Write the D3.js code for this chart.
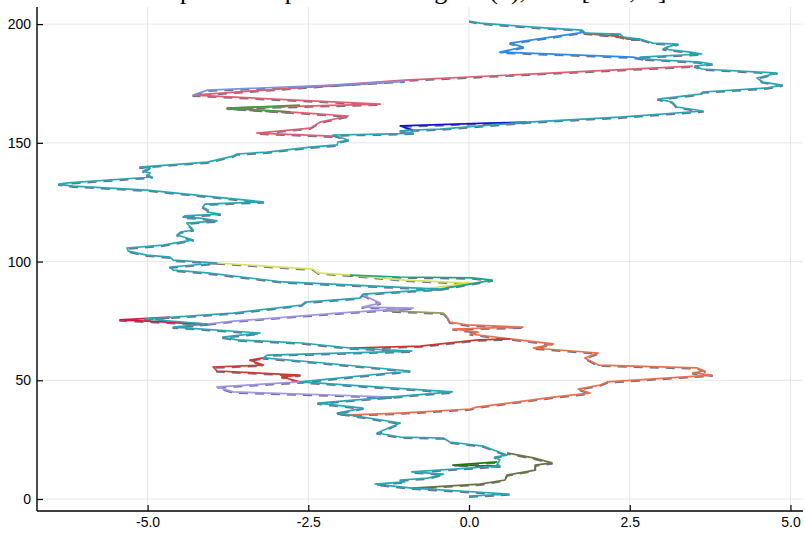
<!DOCTYPE html>
<html><head><meta charset="utf-8">
<script src="https://cdn.jsdelivr.net/npm/d3@7"></script>
<style>html,body{margin:0;padding:0;background:#fff;} svg{display:block}</style>
</head><body><svg id="c" width="805" height="533"></svg>
<script>
const titleText = "permuted paths of a bridge W(n), n ∈ [100, T]";
const xTickValues = [-5, -2.5, 0, 2.5, 5];
const xTickLabels = ["-5.0", "-2.5", "0.0", "2.5", "5.0"];
const yTickValues = [0, 50, 100, 150, 200];
const yTickLabels = ["0", "50", "100", "150", "200"];

// main path (x, t)
const mainPath = [
 [0,1.2],[0.62,2.1],[-0.89,4.6],[-1.46,6.3],[-1.00,7.2],[-1.07,8.0],[-0.64,8.8],[-0.40,10.5],[-0.89,11.4],
 [0.48,13.9],[0.44,14.7],[0.48,16.4],[0.40,17.7],[0.59,18.5],[0.30,21.5],[0.22,22.3],[-0.30,24.0],[-0.40,25.7],
 [-1.07,26.1],[-1.43,27.8],[-1.07,32.0],[-2.05,36.2],[-1.65,38.3],[-2.35,40.4],[-0.26,45.1],[-2.63,49.3],
 [-0.92,53.9],[-2.43,57.7],[-3.20,59.4],[-3.14,60.6],[-0.89,62.3],[-1.85,63.6],[-2.60,65.7],[-3.61,67.0],
 [-3.83,68.2],[-3.25,69.9],[-4.60,72.4],[-4.07,73.7],[-5.04,75.8],[-3.67,78.3],[-2.60,81.7],[-2.55,82.9],
 [-1.70,84.6],[-1.65,86.3],[-0.45,88.4],[-2.89,91.4],[-4.07,95.2],[-4.60,96.4],[-4.65,97.7],[-3.92,99.4],
 [-4.60,100.6],[-4.65,101.9],[-5.01,102.7],[-5.30,104.4],[-5.32,105.7],[-4.76,106.9],[-4.29,109.1],[-4.54,111.2],
 [-4.49,112.4],[-4.29,113.3],[-4.39,116.2],[-3.92,117.1],[-4.18,118.3],[-4.45,118.7],[-4.42,119.2],[-3.87,120.0],
 [-4.07,120.8],[-4.06,121.7],[-4.14,122.9],[-4.11,124.2],[-3.20,125.1],[-5.01,130.1],[-6.16,131.8],[-6.38,132.6],
 [-6.24,133.1],[-4.93,135.6],[-5.01,136.4],[-4.96,137.3],[-5.07,138.1],[-4.96,139.4],[-5.12,139.8],[-4.07,141.9],
 [-3.67,144.4],[-3.61,145.3],[-3.14,146.1],[-2.47,148.2],[-2.05,149.1],[-2.04,150.3],[-1.88,151.2],[-2.12,153.3],
 [-1.38,153.7],[-0.87,154.1],[-1.07,155.0],[-0.87,155.4],[-0.45,155.8],[0.90,158.7],[2.35,160.8],[3.64,163.4],
 [3.23,165.1],[3.16,167.2],[2.94,168.4],[3.59,170.5],[3.64,171.4],[4.63,173.1],[4.87,174.3],[4.57,175.6],
 [4.48,177.3],[4.79,179.4],[3.62,181.1],[3.51,182.3],[3.78,183.2],[3.59,184.0],[2.71,185.3],[2.66,186.1],
 [3.62,187.4],[3.44,188.2],[3.02,189.5],[3.08,190.3],[3.25,191.6],[2.86,192.0],[2.66,193.7],[2.40,194.5],
 [2.35,195.8],[1.80,196.2],[1.76,197.5],[1.00,198.7],[0.17,200.4],[0,201.3]
];
const oliveBottom = [[-0.89,4.6],[0.17,6.3],[0.56,8.0],[0.59,10.1],[1.03,12.2],[1.03,14.3],[1.29,15.2],[1.00,17.3],[0.59,19.4]];
const greenBottom = [[0.48,13.9],[-0.25,14.3],[0.44,15.6]];
const orangePath = [[-2.05,36.2],[-1.85,35.4],[-1.07,36.2],[0.02,37.9],[0.12,38.7],[1.31,42.9],[1.88,44.6],[1.70,46.3],
 [2.04,48.0],[2.15,49.3],[3.78,52.2],[3.48,53.1],[3.67,53.9],[3.55,55.2],[2.01,56.4],[1.80,59.4],[2.01,61.5],
 [1.80,61.9],[1.00,63.6],[1.31,65.3],[0.64,67.4],[0.02,69.5],[0.14,70.3],[-0.25,71.6],[0.84,72.4],[-0.03,73.3],
 [-0.30,74.5],[-0.34,76.6]];
const khakiPath = [[-0.34,76.6],[-0.40,78.3],[-1.23,79.2]];
const redUpper = [[-1.85,63.6],[-0.76,64.4],[0.14,67.0],[0.64,67.4]];
const redLower = [[-2.63,49.3],[-2.91,51.4],[-2.63,52.2],[-3.92,53.9],[-3.98,55.6],[-3.20,56.4],[-3.41,58.5],[-3.20,59.4]];
const crimsonPath = [[-4.07,73.7],[-5.43,75.4],[-4.65,76.6]];
const lavenderUpper = [[-4.07,73.7],[-3.67,74.9],[-2.05,78.3],[-0.87,80.4],[-1.66,80.8],[-1.38,82.5],[-1.65,85.9],[-1.65,86.3]];
const lavenderLower = [[-1.2,42.9],[-2.12,43.8],[-3.67,45.1],[-3.92,47.2],[-2.63,49.3]];
const yellowPath = [[-0.61,88.8],[-0.45,89.3],[0.02,90.9],[-1.00,92.2],[-1.85,94.3],[-2.35,95.2],[-2.43,96.8],[-3.92,99.4]];
const tealGreenPath = [[-0.45,88.4],[0.36,92.2],[0.05,93.1],[-1.07,93.5],[-1.85,94.3]];
const pinkPath = [[-2.12,152.8],[-3.30,154.1],[-2.47,156.2],[-2.32,158.7],[-1.88,161.3],[-2.52,162.5],[-3.76,164.6],
 [-1.38,166.3],[-4.29,170.1],[-1.00,176.4],[3.48,182.3]];
const greenMid = [[-2.78,163.0],[-3.76,164.6],[-2.63,165.9]];
const cornflowerPath = [[-4.29,170.1],[-4.07,172.2],[-2.12,174.3],[-1.00,176.0]];
const darkBluePath = [[-0.87,155.4],[-1.07,157.1],[0.28,158.3],[0.90,158.7]];
const dodgerPath = [[2.71,185.3],[2.55,186.1],[0.48,188.2],[0.84,190.3],[0.64,192.0],[1.80,196.6]];
const brownPath = [[2.66,193.7],[2.47,193.7],[2.35,194.7],[1.80,196.2]];

const seriesList = [
  {data: pinkPath, color: "#e35d72"},
  {data: cornflowerPath, color: "#7d92e0"},
  {data: greenMid, color: "#3f9e3a"},
  {data: orangePath, color: "#e8704e"},
  {data: khakiPath, color: "#9a9866"},
  {data: redUpper, color: "#c9392f"},
  {data: redLower, color: "#cf3a30"},
  {data: crimsonPath, color: "#d8173f"},
  {data: lavenderUpper, color: "#a095e6"},
  {data: lavenderLower, color: "#a095e6"},
  {data: yellowPath, color: "#d9e25c"},
  {data: tealGreenPath, color: "#17a88c"},
  {data: oliveBottom, color: "#66743f"},
  {data: greenBottom, color: "#1f7a12"},
  {data: darkBluePath, color: "#1414d4"},
  {data: dodgerPath, color: "#2a8df0"},
  {data: brownPath, color: "#b05a2c"},
  {data: mainPath, color: "#27a6b4"}
];

const svg = d3.select("#c");
const W = 805, H = 533;
const mLeft = 37, mRight = 803, mTop = 7, mBottom = 511;
const x = d3.scaleLinear().domain([-6.72, 5.195]).range([mLeft, mRight]);
const y = d3.scaleLinear().domain([-5.05, 207.2]).range([mBottom, mTop]);

svg.append("rect").attr("width", W).attr("height", H).attr("fill", "#fff");

// grid
const grid = svg.append("g").attr("stroke", "#e6e6e6").attr("stroke-width", 1);
grid.selectAll("line.vx").data(xTickValues).join("line").attr("class", "vx")
  .attr("x1", d => x(d)).attr("x2", d => x(d)).attr("y1", mTop).attr("y2", mBottom);
grid.selectAll("line.hy").data(yTickValues).join("line").attr("class", "hy")
  .attr("x1", mLeft).attr("x2", mRight).attr("y1", d => y(d)).attr("y2", d => y(d));

// title (mostly clipped at the top edge, as in the reference)
svg.append("text").attr("x", 180).attr("y", -1).attr("text-anchor", "start")
  .attr("font-family", "'Liberation Serif', 'Times New Roman', serif").attr("font-size", 26)
  .attr("fill", "#000").text(titleText);

const line = d3.line().x(d => x(d[0])).y(d => y(d[1]));
const gUnder = svg.append("g").attr("transform", "translate(0,0.9)");
const gOver = svg.append("g");
seriesList.forEach(s => {
  gUnder.append("path").attr("d", line(s.data)).attr("fill", "none")
    .attr("stroke", "#6f6d8c").attr("stroke-width", 1.9).attr("stroke-dasharray", "9 7")
    .attr("stroke-linejoin", "round");
});
seriesList.forEach(s => {
  gOver.append("path").attr("d", line(s.data)).attr("fill", "none")
    .attr("stroke", s.color).attr("stroke-width", 1.7).attr("stroke-linejoin", "round");
});

// axes
const fontFam = "'Liberation Sans', Arial, Helvetica, sans-serif";
const xAxis = d3.axisBottom(x).tickValues(xTickValues).tickFormat((d, i) => xTickLabels[i])
  .tickSizeInner(-6).tickSizeOuter(0).tickPadding(6);
const yAxis = d3.axisLeft(y).tickValues(yTickValues).tickFormat((d, i) => yTickLabels[i])
  .tickSizeInner(-6).tickSizeOuter(0).tickPadding(6);
const gx = svg.append("g").attr("transform", `translate(0,${mBottom})`).call(xAxis);
const gy = svg.append("g").attr("transform", `translate(${mLeft},0)`).call(yAxis);
[gx, gy].forEach(g => {
  g.select(".domain").attr("stroke", "#000").attr("stroke-width", 1.4);
  g.selectAll(".tick line").attr("stroke", "#000").attr("stroke-width", 1.2);
  g.selectAll(".tick text").attr("font-family", fontFam).attr("font-size", 14).attr("fill", "#000");
});
gy.select(".domain").attr("d", `M0,${mTop}V${mBottom}`);
gx.select(".domain").attr("d", `M${mLeft},0H${mRight}`);
</script></body></html>
